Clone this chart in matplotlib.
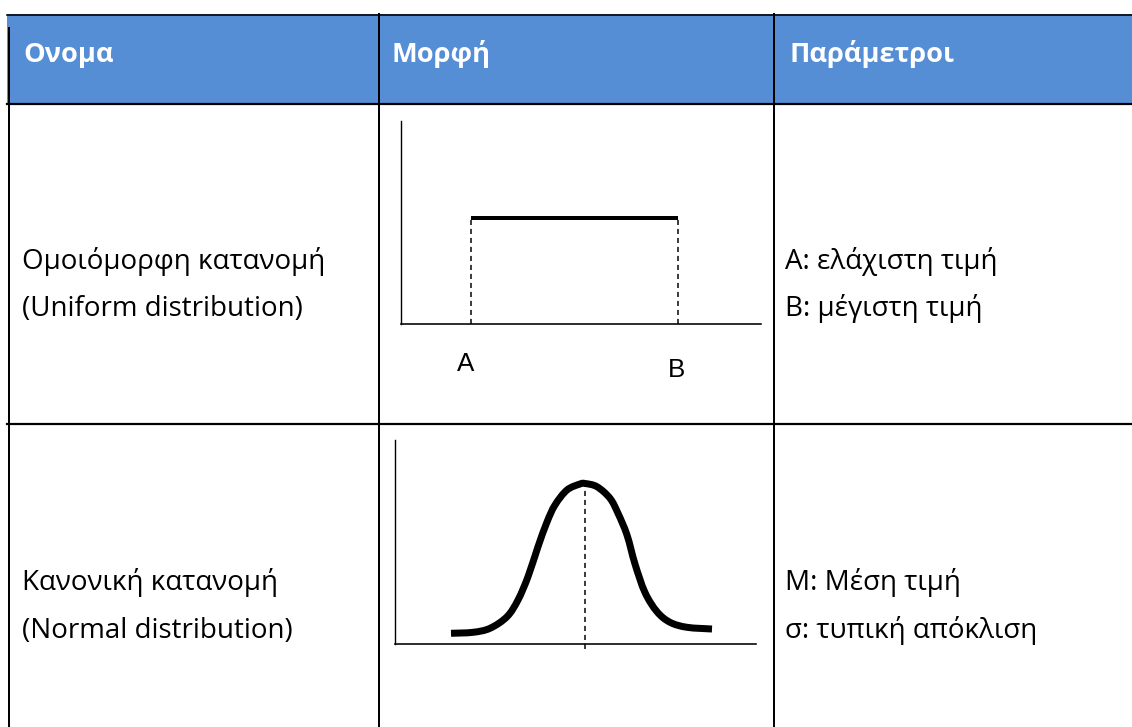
import matplotlib
matplotlib.use("Agg")
import matplotlib.pyplot as plt
from matplotlib.patches import Rectangle, PathPatch
from matplotlib.path import Path

# ---------------- data ----------------
headers = ["Ονομα", "Μορφή", "Παράμετροι"]
names = [["Ομοιόμορφη κατανομή", "(Uniform distribution)"],
         ["Κανονική κατανομή", "(Normal distribution)"]]
params = [["A: ελάχιστη τιμή", "B: μέγιστη τιμή"],
          ["M: Μέση τιμή", "σ: τυπική απόκλιση"]]

# uniform sketch (chart units)
uniform_a = 70
uniform_b = 277
uniform_height = 106
uniform_labels = ["A", "B"]

# normal sketch (chart units)
normal_x = [56, 78, 95, 112, 123, 133, 143, 152, 160, 172, 185, 190,
            202, 215, 223, 232, 240, 250, 262, 275, 292, 317]
normal_y = [10.7, 11.7, 15.7, 27.3, 44, 67.3, 97.3, 122, 139, 154, 160, 160.5,
            157.3, 145.7, 130.7, 109, 80, 51.5, 32.3, 21.7, 16.7, 15]
normal_mean = 190

# ---------------- figure ----------------
W, H = 1132, 727
DPI = 100
fig = plt.figure(figsize=(W / DPI, H / DPI), dpi=DPI)
fig.patch.set_facecolor("white")
ax = fig.add_axes([0, 0, 1, 1])
ax.set_xlim(0, W)
ax.set_ylim(H, 0)
ax.axis("off")

PT = 72.0 / DPI  # points per pixel

col_edges = [8, 379, 774]
header_top, header_bot, row_div = 14.5, 104, 423.5
header_color = "#558ED5"

ax.add_patch(Rectangle((7, 14), W - 7, 90, facecolor=header_color, edgecolor="none", zorder=1))
ax.plot([7, W], [header_top, header_top], color="black", lw=1.6 * PT, zorder=3)
ax.plot([7, W], [header_bot, header_bot], color="black", lw=2.2 * PT, zorder=3)
ax.plot([7, W], [row_div, row_div], color="black", lw=2.2 * PT, zorder=3)
ax.plot([8.5, 8.5], [28, H], color="black", lw=2 * PT, zorder=3)
for x in col_edges[1:]:
    ax.plot([x, x], [14, H], color="black", lw=2 * PT, zorder=3)

body_font = "Open Sans"
body_size = 27.7 * PT
head_size = 27.3 * PT

head_x = [23, 392, 790]
for x, t in zip(head_x, headers):
    ax.text(x, 62, t, color="white", fontsize=head_size, fontweight="bold",
            family=body_font, va="baseline", ha="left", zorder=4)

row_baselines = [[269, 316], [590, 638]]
for r in range(2):
    for k in range(2):
        ax.text(22, row_baselines[r][k], names[r][k], fontsize=body_size, family=body_font,
                va="baseline", ha="left", color="black", zorder=4)
        ax.text(785, row_baselines[r][k], params[r][k], fontsize=body_size, family=body_font,
                va="baseline", ha="left", color="black", zorder=4)


def inset(left, bottom_y, w, h):
    a = fig.add_axes([left / W, (H - bottom_y) / H, w / W, h / H])
    a.set_xlim(0, w)
    a.set_ylim(0, h)
    a.patch.set_alpha(0)
    for s in ["top", "right"]:
        a.spines[s].set_visible(False)
    a.set_xticks([])
    a.set_yticks([])
    return a


def smooth_path(xs, ys):
    """Catmull-Rom curve through the given points, expressed as cubic Bezier segments."""
    pts = list(zip(xs, ys))
    n = len(pts)
    verts = [pts[0]]
    codes = [Path.MOVETO]
    for i in range(n - 1):
        p0 = pts[i - 1] if i > 0 else pts[i]
        p1 = pts[i]
        p2 = pts[i + 1]
        p3 = pts[i + 2] if i + 2 < n else pts[i + 1]
        c1 = (p1[0] + (p2[0] - p0[0]) / 6.0, p1[1] + (p2[1] - p0[1]) / 6.0)
        c2 = (p2[0] - (p3[0] - p1[0]) / 6.0, p2[1] - (p3[1] - p1[1]) / 6.0)
        verts += [c1, c2, p2]
        codes += [Path.CURVE4] * 3
    return Path(verts, codes)


# uniform sketch
ua = inset(401, 324, 360, 203)
ua.spines["left"].set_linewidth(1.4 * PT)
ua.spines["bottom"].set_linewidth(1.6 * PT)
ua.plot([uniform_a, uniform_b], [uniform_height, uniform_height], color="black",
        lw=4 * PT, solid_capstyle="butt")
for x in (uniform_a, uniform_b):
    ua.plot([x, x], [0, uniform_height], color="black", lw=1.5 * PT,
            linestyle=(0, (3.4, 2.6)), clip_on=False)
ua.text(uniform_a - 5, -46.7, uniform_labels[0], fontsize=26 * PT, family="Liberation Sans",
        ha="center", va="baseline")
ua.text(uniform_b - 2, -53, uniform_labels[1], fontsize=26 * PT, family="Liberation Sans",
        ha="center", va="baseline")

# normal sketch
na = inset(395, 644, 361, 204)
na.spines["left"].set_linewidth(1.4 * PT)
na.spines["bottom"].set_linewidth(1.6 * PT)
na.add_patch(PathPatch(smooth_path(normal_x, normal_y), facecolor="none", edgecolor="black",
                       lw=7 * PT, capstyle="butt", joinstyle="round"))
na.plot([normal_mean, normal_mean], [-5, max(normal_y)], color="black", lw=1.5 * PT,
        linestyle=(0, (3.4, 2.6)), clip_on=False)

fig.savefig("out.png", dpi=DPI, facecolor="white")
